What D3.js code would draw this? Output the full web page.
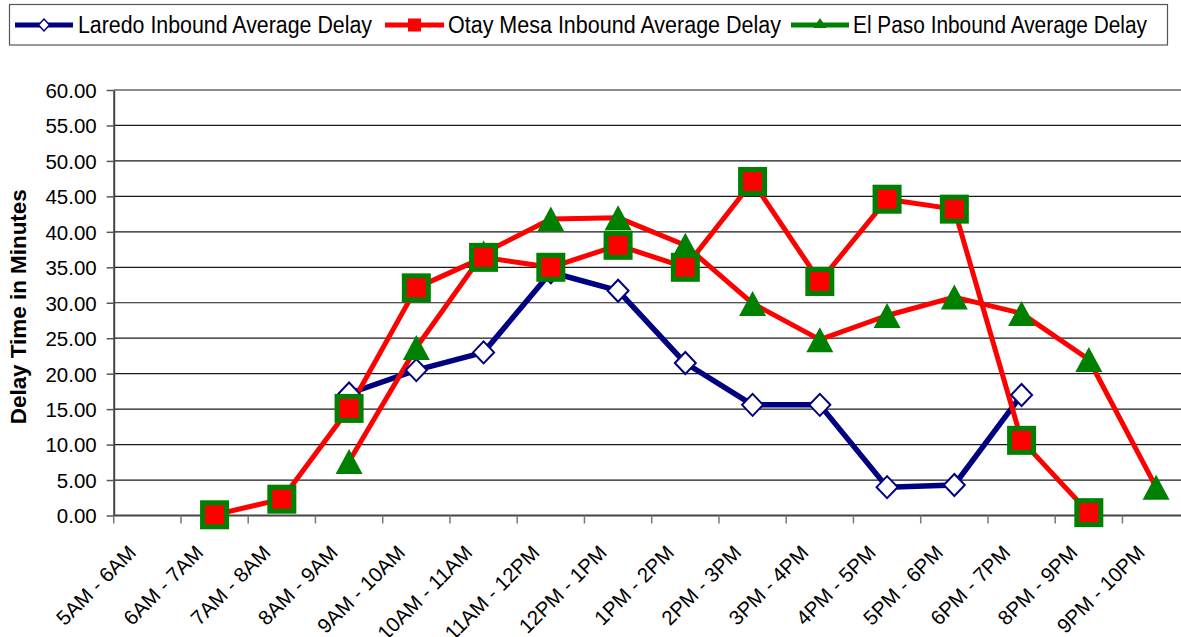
<!DOCTYPE html>
<html>
<head>
<meta charset="utf-8">
<script src="https://cdn.jsdelivr.net/npm/d3@7"></script>
<style>
  body { margin: 0; background: #fff; }
  svg { display: block; font-family: Arial, "Liberation Sans", sans-serif; }
</style>
</head>
<body>
<script>
// categories on the x axis (no 7PM - 8PM slot in the source)
var categories = ["5AM - 6AM", "6AM - 7AM", "7AM - 8AM", "8AM - 9AM", "9AM - 10AM",
    "10AM - 11AM", "11AM - 12PM", "12PM - 1PM", "1PM - 2PM", "2PM - 3PM",
    "3PM - 4PM", "4PM - 5PM", "5PM - 6PM", "6PM - 7PM", "8PM - 9PM", "9PM - 10PM"];

// delay in minutes, null = no value
var laredo   = [null, null, null, 17.2, 20.5, 23.0, 34.3, 31.7, 21.5, 15.6, 15.6, 4.0, 4.3, 17.0, null, null];
var otayMesa = [null, 0.1, 2.3, 15.1, 32.1, 36.4, 35.0, 38.1, 35.0, 47.1, 33.0, 44.6, 43.2, 10.6, 0.4, null];
var elPaso   = [null, null, null, 7.6, 23.7, 37.0, 41.8, 42.0, 38.1, 29.9, 24.8, 28.2, 30.8, 28.5, 22.0, 4.0];

var seriesNames = ["Laredo Inbound Average Delay", "Otay Mesa Inbound Average Delay", "El Paso Inbound Average Delay"];
var yTicks = [0, 5, 10, 15, 20, 25, 30, 35, 40, 45, 50, 55, 60];

var width = 1181, height = 637;
var plot = { left: 113.7, top: 90, bottom: 515.5, step: 67.25 };

var svg = d3.select("body")
    .append("svg")
    .attr("width", width)
    .attr("height", height);

svg.append("rect").attr("width", width).attr("height", height).attr("fill", "#fff");

// ---------------------------//
//       AXIS  AND SCALE      //
// ---------------------------//

var x = d3.scaleBand()
    .domain(categories)
    .range([plot.left, plot.left + categories.length * plot.step]);

var y = d3.scaleLinear()
    .domain([0, 60])
    .range([plot.bottom, plot.top]);

// gridlines
svg.append("g")
    .selectAll("line")
    .data(yTicks.filter(function(d) { return d > 0; }))
    .enter()
    .append("line")
    .attr("x1", plot.left)
    .attr("x2", x.range()[1])
    .attr("y1", function(d) { return y(d); })
    .attr("y2", function(d) { return y(d); })
    .attr("stroke", "#1a1a1a")
    .attr("stroke-width", 1.2);

// y axis
var yAxis = svg.append("g")
    .attr("transform", "translate(" + plot.left + ",0)")
    .call(d3.axisLeft(y).tickValues(yTicks).tickFormat(d3.format(".2f")).tickSize(7).tickSizeOuter(0));
yAxis.select(".domain").attr("stroke", "#444").attr("stroke-width", 2);
yAxis.selectAll(".tick line").attr("stroke", "#555").attr("stroke-width", 1.5);
yAxis.selectAll(".tick text")
    .attr("x", -17)
    .attr("dy", "0.36em")
    .style("font-size", "20.5px")
    .attr("fill", "#000");

// x axis line + ticks at category boundaries
svg.append("line")
    .attr("x1", plot.left).attr("x2", x.range()[1])
    .attr("y1", y(0)).attr("y2", y(0))
    .attr("stroke", "#444").attr("stroke-width", 2);

svg.append("g")
    .selectAll("line")
    .data(categories.concat(["end"]))
    .enter()
    .append("line")
    .attr("x1", function(d) { return d === "end" ? x.range()[1] : x(d); })
    .attr("x2", function(d) { return d === "end" ? x.range()[1] : x(d); })
    .attr("y1", y(0))
    .attr("y2", y(0) + 8)
    .attr("stroke", "#777")
    .attr("stroke-width", 1.5);

// x labels, rotated
svg.append("g")
    .selectAll("text")
    .data(categories)
    .enter()
    .append("text")
    .attr("transform", function(d) {
        return "translate(" + (x(d) + x.bandwidth() / 2 - 10) + "," + 554 + ") rotate(-45)";
    })
    .attr("text-anchor", "end")
    .style("font-size", "20.5px")
    .text(function(d) { return d; });

// y axis title
svg.append("text")
    .attr("transform", "translate(26," + ((plot.top + plot.bottom) / 2 + 4) + ") rotate(-90)")
    .attr("text-anchor", "middle")
    .attr("textLength", 235)
    .attr("lengthAdjust", "spacingAndGlyphs")
    .style("font-size", "22px")
    .style("font-weight", "bold")
    .text("Delay Time in Minutes");

// ---------------------------//
//       LINES                //
// ---------------------------//

var cx = function(i) { return x(categories[i]) + x.bandwidth() / 2; };

var line = d3.line()
    .defined(function(d) { return d != null; })
    .x(function(d, i) { return cx(i); })
    .y(function(d) { return y(d); });

svg.append("path").datum(laredo).attr("d", line)
    .attr("fill", "none").attr("stroke", "#000080").attr("stroke-width", 5.5).attr("stroke-linejoin", "round");
svg.append("path").datum(otayMesa).attr("d", line)
    .attr("fill", "none").attr("stroke", "#ff0000").attr("stroke-width", 5).attr("stroke-linejoin", "round");
svg.append("path").datum(elPaso).attr("d", line)
    .attr("fill", "none").attr("stroke", "#ff0000").attr("stroke-width", 5).attr("stroke-linejoin", "round");

// ---------------------------//
//       MARKERS              //
// ---------------------------//

var diamond = function(w, h) { return "M0," + (-h / 2) + "L" + (w / 2) + ",0L0," + (h / 2) + "L" + (-w / 2) + ",0Z"; };
var triangle = function(w, h) { return "M0," + (-h / 2) + "L" + (w / 2) + "," + (h / 2) + "L" + (-w / 2) + "," + (h / 2) + "Z"; };

function pointsOf(arr) {
    return arr.map(function(v, i) { return { v: v, i: i }; }).filter(function(d) { return d.v != null; });
}

svg.append("g")
    .selectAll("path")
    .data(pointsOf(laredo))
    .enter()
    .append("path")
    .attr("transform", function(d) { return "translate(" + cx(d.i) + "," + y(d.v) + ")"; })
    .attr("d", diamond(21, 22))
    .attr("fill", "#fff")
    .attr("stroke", "#000080")
    .attr("stroke-width", 2);

svg.append("g")
    .selectAll("path")
    .data(pointsOf(elPaso))
    .enter()
    .append("path")
    .attr("transform", function(d) { return "translate(" + cx(d.i) + "," + y(d.v) + ")"; })
    .attr("d", triangle(27, 25))
    .attr("fill", "#008000");

svg.append("g")
    .selectAll("rect")
    .data(pointsOf(otayMesa))
    .enter()
    .append("rect")
    .attr("x", function(d) { return cx(d.i) - 12; })
    .attr("y", function(d) { return y(d.v) - 12; })
    .attr("width", 24)
    .attr("height", 24)
    .attr("fill", "#ff0000")
    .attr("stroke", "#008000")
    .attr("stroke-width", 5);

// ---------------------------//
//       LEGEND               //
// ---------------------------//

svg.append("rect")
    .attr("x", 9.5).attr("y", 4.5)
    .attr("width", 1158).attr("height", 40.5)
    .attr("fill", "#fff")
    .attr("stroke", "#555")
    .attr("stroke-width", 1.2);

var legendItems = [
    { name: seriesNames[0], x1: 15, x2: 73, tx: 78, tw: 294, color: "#000080" },
    { name: seriesNames[1], x1: 385, x2: 444, tx: 448, tw: 333, color: "#ff0000" },
    { name: seriesNames[2], x1: 791, x2: 849, tx: 853, tw: 294, color: "#008000" }
];
var ly = 25;

var lg = svg.append("g")
    .selectAll("g")
    .data(legendItems)
    .enter()
    .append("g");

lg.append("line")
    .attr("x1", function(d) { return d.x1; })
    .attr("x2", function(d) { return d.x2; })
    .attr("y1", ly).attr("y2", ly)
    .attr("stroke", function(d) { return d.color; })
    .attr("stroke-width", 5);

lg.append("text")
    .attr("x", function(d) { return d.tx; })
    .attr("y", ly)
    .attr("dy", "0.36em")
    .attr("textLength", function(d) { return d.tw; })
    .attr("lengthAdjust", "spacingAndGlyphs")
    .style("font-size", "23px")
    .text(function(d) { return d.name; });

// legend markers
lg.filter(function(d, i) { return i === 0; })
    .append("path")
    .attr("transform", function(d) { return "translate(" + (d.x1 + d.x2) / 2 + "," + ly + ")"; })
    .attr("d", diamond(11, 12))
    .attr("fill", "#fff")
    .attr("stroke", "#000080")
    .attr("stroke-width", 1.5);

lg.filter(function(d, i) { return i === 1; })
    .append("rect")
    .attr("x", function(d) { return (d.x1 + d.x2) / 2 - 6.5; })
    .attr("y", ly - 6.5)
    .attr("width", 13).attr("height", 13)
    .attr("fill", "#ff0000");

lg.filter(function(d, i) { return i === 2; })
    .append("path")
    .attr("transform", function(d) { return "translate(" + (d.x1 + d.x2) / 2 + "," + (ly - 2) + ")"; })
    .attr("d", triangle(13, 10))
    .attr("fill", "#008000");
</script>
</body>
</html>
